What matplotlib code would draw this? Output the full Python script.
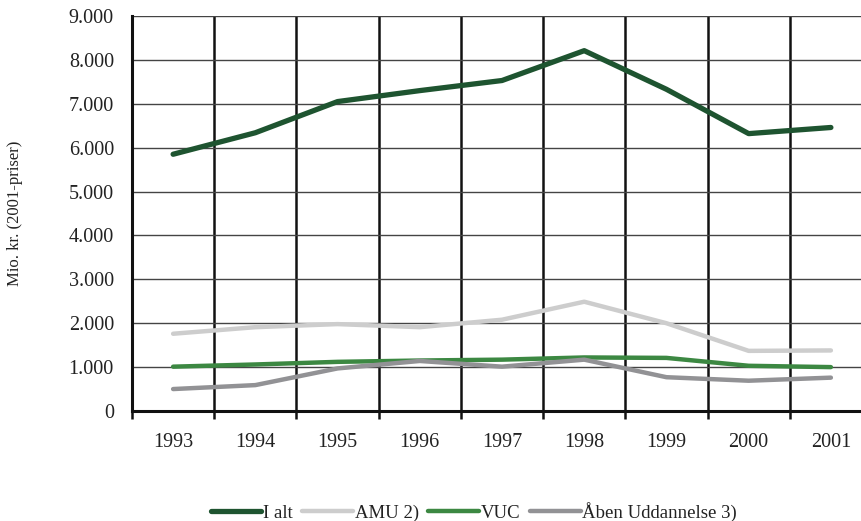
import matplotlib
matplotlib.use("Agg")
import matplotlib.pyplot as plt
from matplotlib.ticker import FuncFormatter, FixedLocator

years = ["1993", "1994", "1995", "1996", "1997", "1998", "1999", "2000", "2001"]
i_alt = [5850, 6340, 7050, 7300, 7530, 8210, 7330, 6320, 6460]
amu = [1760, 1910, 1980, 1910, 2080, 2490, 2000, 1370, 1380]
vuc = [1010, 1060, 1120, 1150, 1170, 1220, 1210, 1030, 1000]
aaben = [500, 590, 970, 1140, 1010, 1170, 770, 690, 760]

series = [
    ("I alt", i_alt, "#1e5430", 3.8),
    ("AMU 2)", amu, "#cdcdcd", 3.2),
    ("VUC", vuc, "#3c8842", 3.2),
    ("Åben Uddannelse 3)", aaben, "#929295", 3.2),
]

plt.rcParams['font.family'] = ['Liberation Serif', 'DejaVu Serif']

fig = plt.figure(figsize=(8.62, 5.21), dpi=100)
ax = fig.add_axes([132/862, 1-411/521, 740/862, 395/521])

x = list(range(len(years)))
for name, vals, col, lw in series:
    ax.plot(x, vals, color=col, lw=lw, label=name, solid_capstyle='round', zorder=3)

ax.set_xlim(-0.5, len(years) - 0.5)
ax.set_ylim(0, 9000)
ax.set_yticks(range(0, 9001, 1000))
ax.yaxis.set_major_formatter(FuncFormatter(lambda v, p: f"{int(v):,}".replace(",", ".")))
ax.set_xticks(x)
ax.set_xticklabels(years)
ax.xaxis.set_minor_locator(FixedLocator([i + 0.5 for i in range(len(years) - 1)] + [-0.5]))

ax.tick_params(axis='x', which='major', length=0, pad=16, labelsize=14.5, colors='#222222')
ax.tick_params(axis='x', which='minor', length=6, width=1.8, color='#111111', direction='out')
ax.tick_params(axis='y', length=0, pad=13, labelsize=14.5, colors='#222222')

ax.grid(axis='y', which='major', color='#444444', lw=1.0, zorder=1)
ax.grid(axis='x', which='minor', color='#111111', lw=1.8, zorder=1)

for s in ['top', 'right']:
    ax.spines[s].set_visible(False)
ax.spines['left'].set_linewidth(2.2)
ax.spines['bottom'].set_linewidth(2.2)
ax.spines['left'].set_color('#111111')
ax.spines['bottom'].set_color('#111111')

fig.text(15/862, 1-213/521, "Mio. kr. (2001-priser)", rotation=90, va='center', ha='center',
         fontsize=12, color='#222222')

fig.legend(loc='center', bbox_to_anchor=(474/862, 1-512/521), ncol=4, frameon=False,
           fontsize=13.5, handlelength=2.7, handletextpad=0.1, columnspacing=0.5,
           labelcolor='#222222')

fig.savefig("out.png", dpi=100)
